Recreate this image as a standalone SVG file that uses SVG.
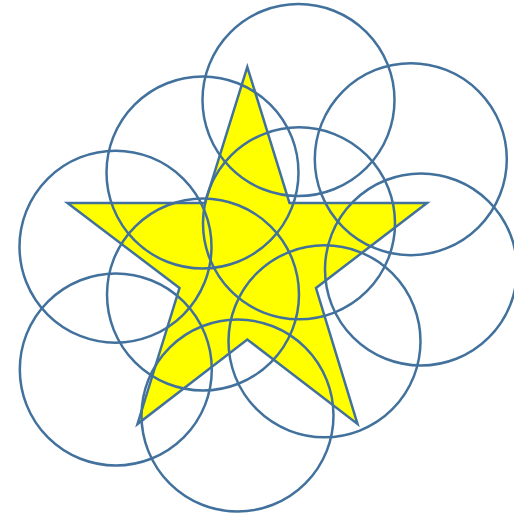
<svg xmlns="http://www.w3.org/2000/svg" width="514" height="513" viewBox="0 0 514 513">
<style>
.s{fill:#FFFF00;stroke:#41719C;stroke-width:2.5;stroke-linejoin:miter}
.c{fill:none;stroke:#41719C;stroke-width:2.5}
</style>
<rect width="514" height="513" fill="#fff"/>
<g id="star"><polygon class="s" points="247.3,67 289.5,203 427,203 316,288 357.5,424 247.3,339.5 137.5,424 179.5,288 67.5,203 205,203"/></g>
<g id="circles">
<circle class="c" cx="298.5" cy="100" r="96"/>
<circle class="c" cx="410.8" cy="159.2" r="96"/>
<circle class="c" cx="202.5" cy="172.5" r="96"/>
<circle class="c" cx="299" cy="223.3" r="96"/>
<circle class="c" cx="421" cy="269.5" r="96"/>
<circle class="c" cx="115.5" cy="246.7" r="96"/>
<circle class="c" cx="203" cy="294.5" r="96"/>
<circle class="c" cx="324.5" cy="341.3" r="96"/>
<circle class="c" cx="115.8" cy="369.5" r="96"/>
<circle class="c" cx="237.5" cy="415.5" r="96"/>
</g>
</svg>
